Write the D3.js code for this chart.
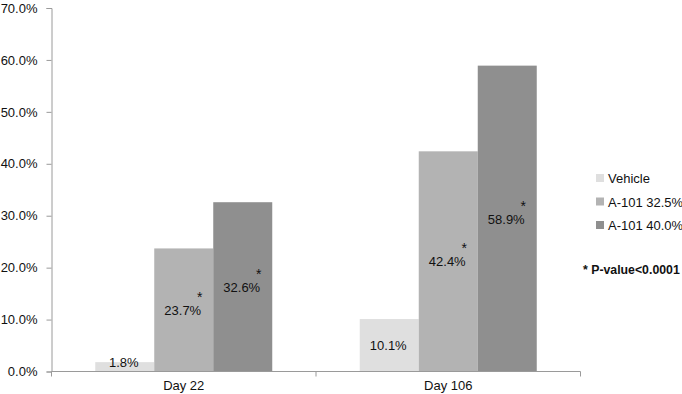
<!DOCTYPE html>
<html>
<head>
<meta charset="utf-8">
<script src="https://cdn.jsdelivr.net/npm/d3@7"></script>
<style>
  body { margin: 0; background: #fff; }
  svg { display: block; font-family: "Liberation Sans", Arial, sans-serif; }
</style>
</head>
<body>
<div id="chart"></div>
<script>
// barras agrupadas: tasa de respuesta por dia y tratamiento
var dias = ["Day 22", "Day 106"];
var series = ["Vehicle", "A-101 32.5%", "A-101 40.0%"];
var valores = [
  [1.8, 23.7, 32.6],
  [10.1, 42.4, 58.9]
];
var marcados = [[false, true, true], [false, true, true]];
var ticksY = [0, 10, 20, 30, 40, 50, 60, 70];
var colores = ["#dfdfdf", "#b3b3b3", "#8f8f8f"];

var W = 682, H = 394;
var svg = d3.select("#chart").append("svg").attr("width", W).attr("height", H);

var x0 = d3.scaleBand().domain(dias).range([51.5, 580.5]).paddingInner(0).paddingOuter(0);
var y = d3.scaleLinear().domain([0, 70]).range([371.5, 8]);
var anchoBarra = 59;

// eje y
var ejeY = svg.append("g").attr("transform", "translate(51.5,0)")
  .call(d3.axisLeft(y).tickValues(ticksY).tickSize(5).tickPadding(9)
    .tickFormat(function (d) { return d.toFixed(1) + "%"; }));
ejeY.select(".domain").attr("stroke", "#9a9a9a");
ejeY.selectAll(".tick line").attr("stroke", "#9a9a9a");
ejeY.selectAll("text").attr("font-size", 13).attr("fill", "#111")
  .attr("font-family", "Liberation Sans, Arial, sans-serif");

// barras
var grupos = svg.append("g").selectAll("g")
  .data(dias).enter().append("g");

grupos.each(function (dia, i) {
  var g = d3.select(this);
  var centro = x0(dia) + x0.bandwidth() / 2;
  var inicio = centro - anchoBarra * series.length / 2;
  valores[i].forEach(function (v, j) {
    var bx = inicio + j * anchoBarra;
    g.append("rect")
      .attr("x", bx).attr("width", anchoBarra)
      .attr("y", y(v)).attr("height", y(0) - y(v))
      .attr("fill", colores[j]);
    var ty = Math.min(y(v / 2), y(0) - 10);
    var tx = bx + anchoBarra / 2 - 1;
    g.append("text")
      .attr("x", tx).attr("y", ty + 5)
      .attr("text-anchor", "middle").attr("font-size", 13).attr("fill", "#111")
      .text(v.toFixed(1) + "%");
    if (marcados[i][j]) {
      g.append("text")
        .attr("x", tx + 17).attr("y", ty - 8)
        .attr("text-anchor", "middle").attr("font-size", 14).attr("fill", "#111")
        .text("*");
    }
  });
});

// eje x
var ejeX = svg.append("g").attr("transform", "translate(0,371.5)");
ejeX.append("line").attr("x1", 51.5).attr("x2", 580.5).attr("stroke", "#9a9a9a");
[x0.range()[0], x0("Day 106"), x0.range()[1]].forEach(function (px) {
  ejeX.append("line").attr("x1", px).attr("x2", px).attr("y1", 0).attr("y2", 5).attr("stroke", "#9a9a9a");
});
ejeX.selectAll("text.cat").data(dias).enter().append("text")
  .attr("class", "cat")
  .attr("x", function (d) { return x0(d) + x0.bandwidth() / 2; })
  .attr("y", 18.5).attr("text-anchor", "middle").attr("font-size", 13).attr("fill", "#111")
  .text(function (d) { return d; });

// leyenda
var leyenda = svg.append("g").attr("transform", "translate(596,0)");
series.forEach(function (s, j) {
  var ly = 178 + j * 23.5;
  leyenda.append("rect").attr("x", 0).attr("y", ly - 4).attr("width", 8).attr("height", 8).attr("fill", colores[j]);
  leyenda.append("text").attr("x", 12).attr("y", ly + 5).attr("font-size", 13).attr("fill", "#111").text(s);
});
svg.append("text").attr("x", 583).attr("y", 274).attr("font-size", 12.3).attr("font-weight", "bold")
  .attr("fill", "#111").text("* P-value<0.0001");
</script>
</body>
</html>
